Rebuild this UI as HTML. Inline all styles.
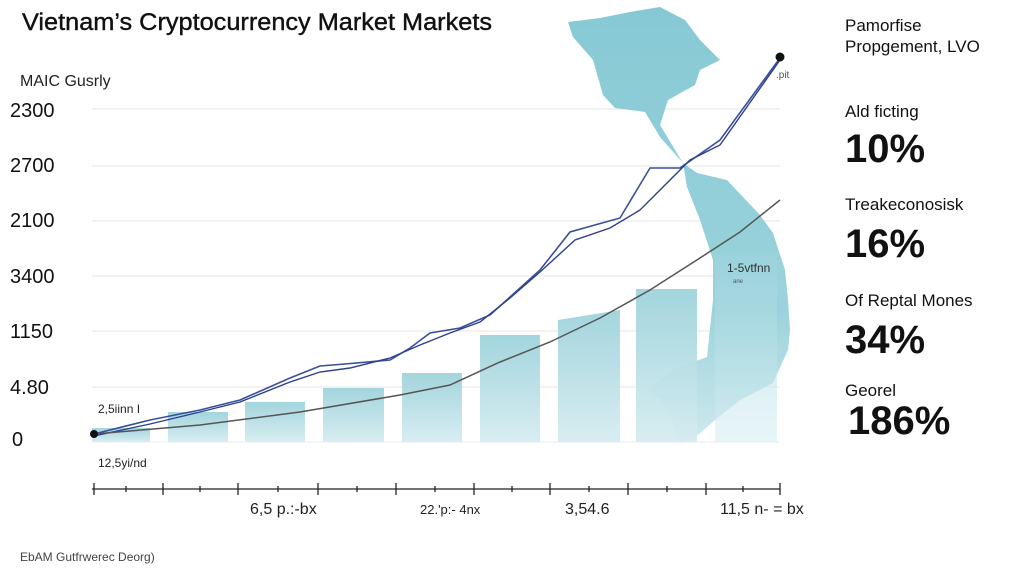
<!DOCTYPE html>
<html><head><meta charset="utf-8"><style>
body{margin:0;width:1024px;height:576px;background:#fff;overflow:hidden;font-family:"Liberation Sans",sans-serif;}
</style></head><body>
<svg width="1024" height="576" viewBox="0 0 1024 576" xmlns="http://www.w3.org/2000/svg" font-family="Liberation Sans, sans-serif">
<defs>
<linearGradient id="bg" x1="0" y1="0" x2="0" y2="1"><stop offset="0" stop-color="#9fd3dc"/><stop offset="1" stop-color="#d6edf1"/></linearGradient>
<linearGradient id="mg" x1="0" y1="0" x2="0" y2="1"><stop offset="0" stop-color="#86c9d5"/><stop offset="0.7" stop-color="#9bd3dc"/><stop offset="1" stop-color="#cfe9ee"/></linearGradient>
</defs>
<text x="22" y="30" font-size="24" fill="#111" textLength="470" lengthAdjust="spacingAndGlyphs" stroke="#111" stroke-width="0.4">Vietnam’s Cryptocurrency Market Markets</text>
<text x="20" y="86" font-size="16" fill="#222">MAIC Gusrly</text>
<g stroke="#e6e6e6" stroke-width="1">
<line x1="92" y1="109" x2="780" y2="109"/><line x1="92" y1="166" x2="780" y2="166"/><line x1="92" y1="221" x2="780" y2="221"/><line x1="92" y1="276" x2="780" y2="276"/><line x1="92" y1="331" x2="780" y2="331"/><line x1="92" y1="387" x2="780" y2="387"/>
</g>
<g font-size="20" fill="#111">
<text x="10" y="117">2300</text><text x="10" y="172">2700</text><text x="10" y="227">2100</text><text x="10" y="283">3400</text><text x="10" y="338">1150</text><text x="10" y="394">4.80</text><text x="12" y="446">0</text>
</g>
<path d="M568,22 L600,18 L630,12 L660,7 L685,20 L700,40 L720,60 L700,70 L695,85 L668,100 L660,125 L683,163 L697,173 L727,180 L760,215 L773,233 L785,270 L788,300 L790,330 L788,350 L773,383 L740,400 L715,420 L700,433 L690,440 L680,443 L672,420 L660,400 L647,390 L665,375 L680,367 L707,357 L713,300 L713,260 L700,220 L687,187 L683,163 L660,137 L645,112 L615,108 L603,95 L593,60 L573,37 Z" fill="url(#mg)"/>
<g fill="url(#bg)" opacity="0.95">
<rect x="92" y="428" width="58" height="14"/><rect x="168" y="412" width="60" height="30"/><rect x="245" y="402" width="60" height="40"/><rect x="323" y="388" width="61" height="54"/><rect x="402" y="373" width="60" height="69"/><rect x="480" y="335" width="60" height="107"/><path d="M558,320 L620,310 L620,442 L558,442Z"/><rect x="636" y="289" width="61" height="153"/><rect x="715" y="255" width="62" height="187" opacity="0.6"/>
</g>
<line x1="92" y1="442" x2="780" y2="442" stroke="#e4eef0"/>
<path d="M94,434 L150,420 L200,410 L240,400 L290,378 L320,366 L345,364 L390,360 L410,348 L430,333 L460,328 L490,315 L540,270 L570,232 L620,218 L650,168 L680,168 L720,140 L780,58" fill="none" stroke="#3a4f9a" stroke-width="1.6"/>
<path d="M94,436 L150,424 L200,412 L240,402 L290,382 L320,372 L350,368 L390,358 L420,345 L450,333 L480,322 L510,298 L540,272 L575,240 L610,228 L640,210 L660,190 L690,160 L720,145 L780,60" fill="none" stroke="#2c3f8f" stroke-width="1.4"/>
<path d="M94,434 L200,425 L300,412 L400,395 L450,385 L500,362 L550,342 L600,318 L650,290 L700,258 L740,232 L780,200" fill="none" stroke="#555" stroke-width="1.5"/>
<circle cx="94" cy="434" r="4" fill="#111"/><circle cx="780" cy="57" r="4.5" fill="#111"/>
<text x="776" y="78" font-size="10" fill="#555">.pit</text>
<text x="727" y="272" font-size="12" fill="#333">1-5vtfnn</text>
<text x="733" y="283" font-size="6" fill="#555">ane</text>
<text x="98" y="413" font-size="12" fill="#222">2,5iinn I</text>
<text x="98" y="467" font-size="12" fill="#222">12,5yi/nd</text>
<g stroke="#222" stroke-width="1.3">
<line x1="92" y1="489" x2="780" y2="489"/>
<line x1="94" y1="483" x2="94" y2="495"/><line x1="163" y1="483" x2="163" y2="495"/><line x1="238" y1="483" x2="238" y2="495"/><line x1="318" y1="483" x2="318" y2="495"/><line x1="396" y1="483" x2="396" y2="495"/><line x1="474" y1="483" x2="474" y2="495"/><line x1="550" y1="483" x2="550" y2="495"/><line x1="628" y1="483" x2="628" y2="495"/><line x1="706" y1="483" x2="706" y2="495"/><line x1="780" y1="483" x2="780" y2="495"/>
<line x1="126" y1="486" x2="126" y2="492"/><line x1="200" y1="486" x2="200" y2="492"/><line x1="278" y1="486" x2="278" y2="492"/><line x1="357" y1="486" x2="357" y2="492"/><line x1="435" y1="486" x2="435" y2="492"/><line x1="512" y1="486" x2="512" y2="492"/><line x1="589" y1="486" x2="589" y2="492"/><line x1="667" y1="486" x2="667" y2="492"/><line x1="743" y1="486" x2="743" y2="492"/>
</g>
<g font-size="16" fill="#222">
<text x="250" y="514">6,5 p.:-bx</text><text x="420" y="514" font-size="13">22.'p:- 4nx</text><text x="565" y="514">3,54.6</text><text x="720" y="514">11,5 n- = bx</text>
</g>
<text x="20" y="561" font-size="12" fill="#444">EbAM Gutfrwerec Deorg)</text>
<g fill="#111">
<text x="845" y="31" font-size="17">Pamorfise</text>
<text x="845" y="52" font-size="17">Propgement, LVO</text>
<text x="845" y="117" font-size="17">Ald ficting</text>
<text x="845" y="162" font-size="40" font-weight="bold">10%</text>
<text x="845" y="210" font-size="17">Treakeconosisk</text>
<text x="845" y="257" font-size="40" font-weight="bold">16%</text>
<text x="845" y="306" font-size="17">Of Reptal Mones</text>
<text x="845" y="353" font-size="40" font-weight="bold">34%</text>
<text x="845" y="396" font-size="17">Georel</text>
<text x="848" y="434" font-size="40" font-weight="bold">186%</text>
</g>
</svg>
</body></html>
